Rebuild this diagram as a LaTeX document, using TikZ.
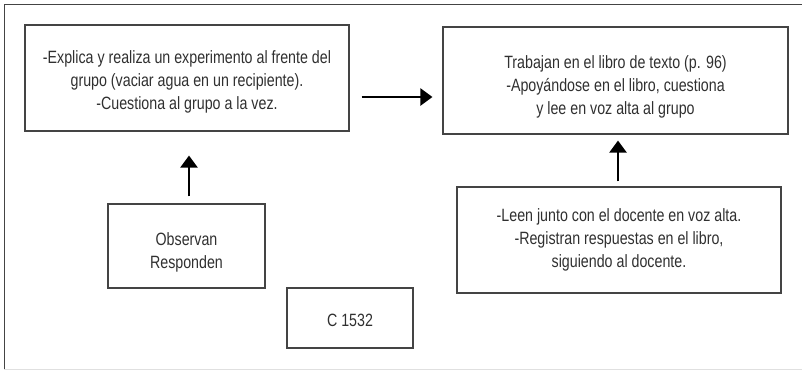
\documentclass[tikz,border=0pt]{standalone}
\usepackage{fontspec}
\setmainfont[FakeStretch=0.8]{Liberation Sans}
\usetikzlibrary{arrows.meta,calc}
\definecolor{txt}{HTML}{303030}
\definecolor{frame}{HTML}{444444}
\tikzset{
  box/.style={draw=frame, line width=1.1pt, inner sep=0pt},
  boxtext/.style={align=center, text=txt, font=\fontsize{17.8}{23}\selectfont, inner sep=0pt},
  arr/.style={draw=black, line width=2.2pt, -{Triangle[width=17pt,length=12pt]}}
}
\begin{document}
\begin{tikzpicture}[x=1pt,y=-1pt]
\useasboundingbox (0,0) rectangle (802,370);
\draw[draw=frame, line width=1pt] (4,369) -- (4,4) -- (802,4);
\draw[draw=black!12, line width=1pt] (4,369) -- (802,369);
\node[box, minimum width=324pt, minimum height=106pt] (b1) at (187,78) {};
\node[boxtext] (t1) at ($(b1.center)+(0,4)$)
  {-Explica y realiza un experimento al frente del\\grupo (vaciar agua en un recipiente).\\-Cuestiona al grupo a la vez.};
\node[box, minimum width=345pt, minimum height=107pt] (b2) at (615.5,80.5) {};
\node[boxtext] (t2) at ($(b2.center)+(0,6)$)
  {Trabajan en el libro de texto (p. 96)\\-Apoyándose en el libro, cuestiona\\y lee en voz alta al grupo};
\node[box, minimum width=157pt, minimum height=84pt] (b3) at (186.5,246) {};
\node[boxtext] (t3) at ($(b3.center)+(0,6)$) {Observan\\Responden};
\node[box, minimum width=126pt, minimum height=60pt] (b5) at (350,318) {};
\node[boxtext] (t5) at ($(b5.center)+(0,2)$) {C 1532};
\node[box, minimum width=324pt, minimum height=106pt] (b4) at (619,240) {};
\node[boxtext] (t4) at ($(b4.center)+(0,0)$)
  {-Leen junto con el docente en voz alta.\\-Registran respuestas en el libro,\\siguiendo al docente.};
\draw[arr] ($(b1.east)+(12,19)$) -- ($(b2.west)+(-10,16.5)$);
\draw[arr] ($(b3.north)+(2.5,-7)$) -- ($(b1.south)+(2,24)$);
\draw[arr] ($(b4.north)+(-1,-5)$) -- ($(b2.south)+(2.5,6)$);
\end{tikzpicture}
\end{document}
